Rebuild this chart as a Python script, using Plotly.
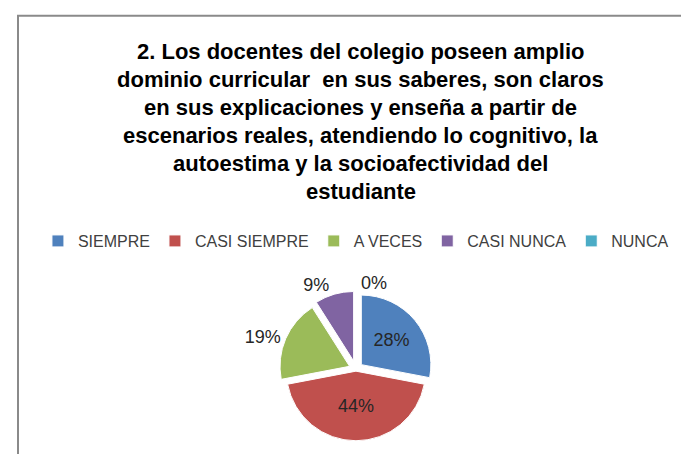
import plotly.graph_objects as go

categories = ["SIEMPRE", "CASI SIEMPRE", "A VECES", "CASI NUNCA", "NUNCA"]
values = [28, 44, 19, 9, 0]
colors = ["#4F81BD", "#C0504D", "#9BBB59", "#8064A2", "#4BACC6"]
title_lines = [
    "2. Los docentes del colegio poseen amplio",
    "dominio curricular  en sus saberes, son claros",
    "en sus explicaciones y enseña a partir de",
    "escenarios reales, atendiendo lo cognitivo, la",
    "autoestima y la socioafectividad del",
    "estudiante",
]

W, H = 689, 454
dom_x = [0.255, 0.755]
dom_y = [0.0, 0.355]

fig = go.Figure(go.Pie(
    labels=categories,
    values=values,
    sort=False,
    direction="clockwise",
    rotation=0,
    marker=dict(colors=colors, line=dict(color="white", width=1)),
    pull=[0.1, 0.03, 0.1, 0.12, 0.1],
    texttemplate="%{percent:.0%}",
    textposition=["inside", "inside", "outside", "outside", "outside"],
    textfont=dict(family="Liberation Sans", size=18, color="#262626"),
    insidetextorientation="horizontal",
    showlegend=True,
    domain=dict(x=dom_x, y=dom_y),
))

annotations = []
y0 = 45
for i, line in enumerate(title_lines):
    annotations.append(dict(
        text=f"<b>{line}</b>", x=0.512, y=1 - (y0 + i * 29) / H,
        xref="paper", yref="paper", xanchor="center", yanchor="middle",
        showarrow=False, font=dict(family="Liberation Sans", size=22, color="#000000"),
    ))

fig.update_layout(
    width=W, height=H,
    margin=dict(l=0, r=0, t=0, b=0),
    paper_bgcolor="white",
    plot_bgcolor="white",
    annotations=annotations,
    legend=dict(
        orientation="h", x=0.505, xanchor="center", y=1 - 241 / H, yanchor="middle",
        font=dict(family="Liberation Sans", size=16, color="#404040"),
        itemwidth=30, tracegroupgap=0, bgcolor="rgba(0,0,0,0)",
    ),
    shapes=[dict(
        type="rect", xref="paper", yref="paper",
        x0=10 / W, x1=1.05, y0=-0.05, y1=1 - 8 / H,
        line=dict(color="#8a8a8a", width=2), fillcolor="rgba(0,0,0,0)",
    )],
)

fig.write_html("out.html")
